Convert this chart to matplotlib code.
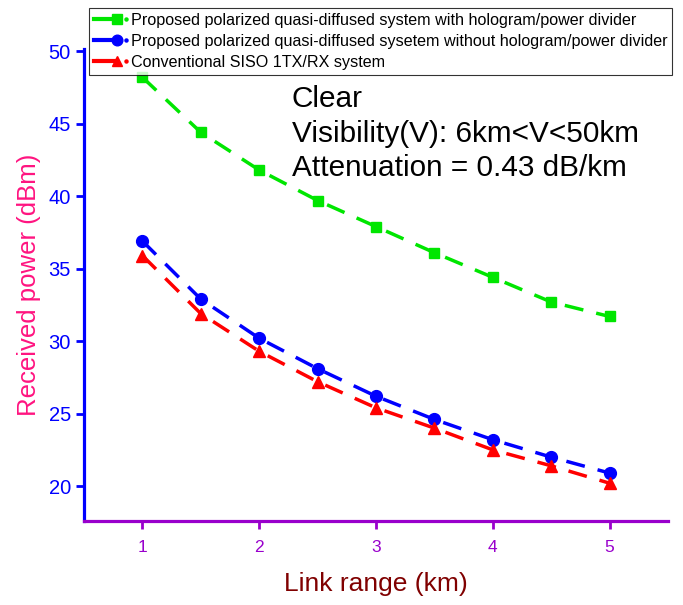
import numpy as np
import matplotlib
matplotlib.use("Agg")
import matplotlib.pyplot as plt
from matplotlib.lines import Line2D
from matplotlib.legend_handler import HandlerLine2D

plt.rcParams['font.family'] = ['Liberation Sans', 'DejaVu Sans']

link_km = [1, 1.5, 2, 2.5, 3, 3.5, 4, 4.5, 5]
with_holo = [48.2, 44.4, 41.8, 39.7, 37.9, 36.1, 34.4, 32.7, 31.7]
without_holo = [36.9, 32.9, 30.2, 28.1, 26.2, 24.6, 23.2, 22.0, 20.9]
siso = [35.9, 31.9, 29.3, 27.2, 25.4, 24.0, 22.5, 21.4, 20.2]

labels = ['Proposed polarized quasi-diffused system with hologram/power divider',
          'Proposed polarized quasi-diffused sysetem without hologram/power divider',
          'Conventional SISO 1TX/RX system']
colors = ['#00e600', '#0000ff', '#ff0000']
markers = ['s', 'o', '^']
msizes = [7.5, 8.5, 8.5]


class OriginHandler(HandlerLine2D):
    # line + marker at its end, then a small dot, like the Origin legend
    def create_artists(self, legend, orig_handle, xdescent, ydescent,
                       width, height, fontsize, trans):
        y = height / 2 - ydescent
        x0 = -xdescent
        x1 = x0 + width * 0.7
        c = orig_handle.get_color()
        ln = Line2D([x0, x1], [y, y], color=c, lw=3)
        mk = Line2D([x1], [y], marker=orig_handle.get_marker(), color=c,
                    ms=orig_handle.get_markersize() * 0.9, ls='none')
        dot = Line2D([x0 + width * 0.97], [y], marker='o', ms=2.2, color=c, ls='none')
        for a in (ln, mk, dot):
            a.set_transform(trans)
        return [ln, mk, dot]


fig = plt.figure(figsize=(6.83, 6.05), dpi=100)
ax = fig.add_axes([0.123, 0.139, 0.855, 0.78])

series = [with_holo, without_holo, siso]
handles = []
for ys, c, m, ms, lab in zip(series, colors, markers, msizes, labels):
    h, = ax.plot(link_km, ys, color=c, marker=m, ms=ms, lw=2.5,
                 ls=(0, (5.5, 3.8)), label=lab)
    handles.append(h)

ax.set_xlim(0.5, 5.5)
ax.set_ylim(17.6, 50.15)
ax.set_xticks([1, 2, 3, 4, 5])
ax.set_yticks([20, 25, 30, 35, 40, 45, 50])

for s in ['top', 'right']:
    ax.spines[s].set_visible(False)
ax.spines['left'].set_color('#0000ff')
ax.spines['left'].set_linewidth(2.3)
ax.spines['bottom'].set_color('#9900cc')
ax.spines['bottom'].set_linewidth(2.3)

ax.tick_params(axis='y', colors='#0000ff', labelsize=14.5, length=6, width=2)
ax.tick_params(axis='x', colors='#9900cc', labelsize=12.5, length=6, width=2, pad=8)

ax.set_ylabel('Received power (dBm)', color='#ff1480', fontsize=18.5, labelpad=5)
ax.set_xlabel('Link range (km)', color='#800000', fontsize=19, labelpad=12)

fig.text(0.4275, 1 - 99 / 605, 'Clear', fontsize=21.4, va='center')
fig.text(0.4275, 1 - 134 / 605, 'Visibility(V): 6km<V<50km', fontsize=21.4, va='center')
fig.text(0.4275, 1 - 168 / 605, 'Attenuation = 0.43 dB/km', fontsize=21.4, va='center')

leg = fig.legend(handles=handles, loc='upper left', bbox_to_anchor=(0.131, 1 - 8 / 605),
                 borderaxespad=0, fontsize=11.6, handlelength=2.0, handletextpad=0.25,
                 labelspacing=0.37, borderpad=0.3, fancybox=False, edgecolor='black',
                 handler_map={Line2D: OriginHandler()})
leg.get_frame().set_linewidth(0.8)

fig.savefig('out.png', dpi=100)
